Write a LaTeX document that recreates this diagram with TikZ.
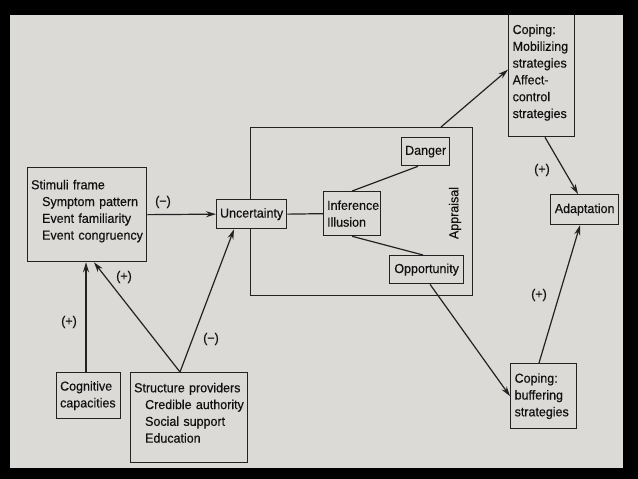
\documentclass[tikz,border=0pt]{standalone}
\usepackage{fontspec}
\newfontfamily\diagfont[FakeStretch=0.96,FakeBold=0.4]{Liberation Sans}
\usetikzlibrary{arrows.meta,calc}
\definecolor{pagec}{HTML}{DCDAD7}
\definecolor{linec}{HTML}{222222}
\definecolor{textc}{HTML}{111111}
\tikzset{
  diag/.style={font=\diagfont\fontsize{13}{16.8}\selectfont, text=textc},
  box/.style={diag, draw=linec, line width=1.3pt, align=left, inner sep=3pt, anchor=north west},
  conn/.style={draw=linec, line width=1.2pt},
  arr/.style={conn, -{Stealth[length=10pt,width=6pt]}},
  lbl/.style={diag, inner sep=0pt}
}
\begin{document}
\begin{tikzpicture}[x=1pt,y=-1pt]
\useasboundingbox (0,0) rectangle (638,479);
\fill[pagec] (0,0) rectangle (638,479);
% nodes
\node[box, minimum width=222pt, minimum height=168pt] (appr) at (250,127) {};
\node[box, minimum width=119pt, minimum height=94pt, text width=112pt] (stim) at (27,167)
  {Stimuli frame\\\hspace*{11pt}Symptom pattern\\\hspace*{11pt}Event familiarity\\\hspace*{11pt}Event congruency\\[-7pt]\mbox{}};
\node[box, fill=pagec, minimum width=70pt, minimum height=29pt, align=center] (unc) at (216,199) {Uncertainty};
\node[box, minimum width=57pt, minimum height=44pt, text width=50pt] (inf) at (323,191) {Inference\\Illusion};
\node[box, minimum width=48pt, minimum height=28pt, align=center] (dan) at (401,137) {Danger};
\node[box, minimum width=74pt, minimum height=28pt, align=center] (opp) at (389,255) {Opportunity};
\node[lbl, rotate=90] (apl) at (455,213) {Appraisal};
\node[box, minimum width=66pt, minimum height=128pt, text width=58pt] (mob) at (508,8)
  {Coping:\\Mobilizing\\strategies\\Affect-\\control\\strategies};
\node[box, minimum width=68pt, minimum height=30pt, align=center] (adapt) at (550,194) {Adaptation};
\node[box, minimum width=66pt, minimum height=65pt, text width=58pt] (buf) at (510,363)
  {Coping:\\buffering\\strategies};
\node[box, minimum width=64pt, minimum height=46pt, text width=57pt] (cog) at (56,372)
  {Cognitive\\capacities};
\node[box, minimum width=117pt, minimum height=90pt, text width=110pt] (struct) at (130,372)
  {Structure providers\\\hspace*{11pt}Credible authority\\\hspace*{11pt}Social support\\\hspace*{11pt}Education\\[-7pt]\mbox{}};
% connectors
\draw[arr] (stim.east) -- (unc.west);
\draw[conn] (unc.east) -- (inf.west);
\draw[conn] (inf.north) -- ($(dan.south west)+(17,0)$);
\draw[conn] (inf.south) -- ($(opp.north west)+(34,0)$);
\draw[arr] ($(appr.north west)+(191,0)$) -- ($(mob.west)+(0,-3)$);
\draw[arr] ($(opp.south west)+(41,0)$) -- (buf.west);
\draw[arr] ($(mob.south west)+(37,0)$) -- ($(adapt.north west)+(28,0)$);
\draw[arr] ($(buf.north west)+(29,0)$) -- ($(adapt.south west)+(30,0)$);
\draw[arr] ($(cog.north west)+(30,0)$) -- ($(stim.south west)+(59,0)$);
\draw[arr] ($(struct.north west)+(50,0)$) -- ($(stim.south west)+(67,0)$);
\draw[arr] ($(struct.north west)+(50,0)$) -- ($(unc.south west)+(18,0)$);
% labels
\node[lbl] (l1) at (163,202) {(−)};
\node[lbl] (l2) at (69,322) {(+)};
\node[lbl] (l3) at (124,277) {(+)};
\node[lbl] (l4) at (211,339) {(−)};
\node[lbl] (l5) at (542,170) {(+)};
\node[lbl] (l6) at (539,295) {(+)};
% black frame
\fill[black] (0,0) rectangle (638,15);
\fill[black] (0,468) rectangle (638,479);
\fill[black] (0,0) rectangle (10,479);
\fill[black] (623,0) rectangle (638,479);
\end{tikzpicture}
\end{document}
